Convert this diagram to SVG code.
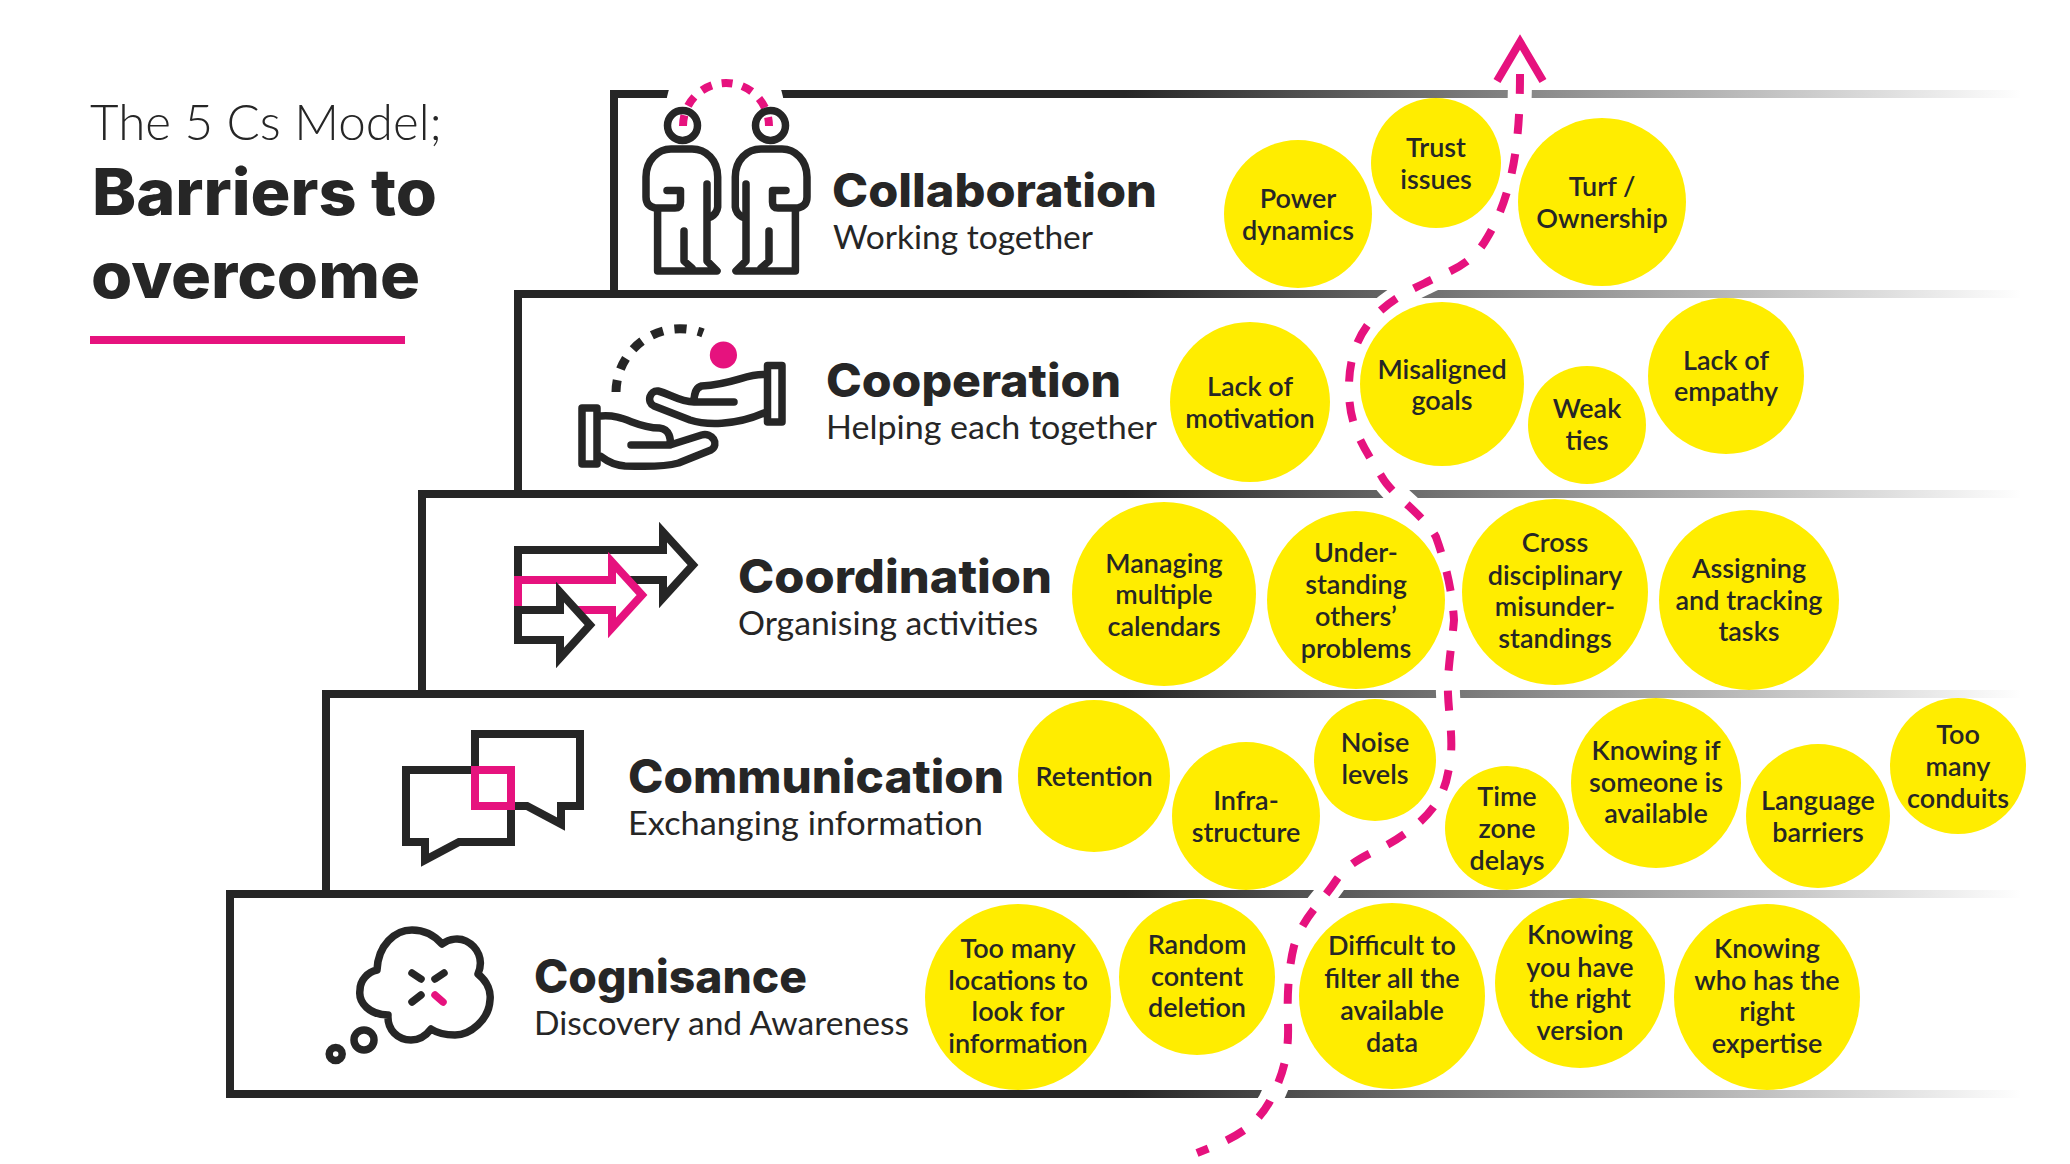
<svg xmlns="http://www.w3.org/2000/svg" width="2070" height="1164" viewBox="0 0 2070 1164">
<style>
text{font-family:"Lato","Noto Sans",sans-serif;fill:#262626}
.t{font-family:"Inter","Lato",sans-serif;font-size:46px;font-weight:800}
.s{font-size:33px;font-weight:400}
.b{font-size:27px;font-weight:600;text-anchor:middle}
.c{fill:#ffed00}
.i{fill:none;stroke:#262626;stroke-width:7.5;stroke-linejoin:round;stroke-linecap:round}
.m{fill:#fff;stroke:#262626;stroke-width:8;stroke-miterlimit:10}
.p{fill:none;stroke:#e6127e;stroke-width:8}
</style>
<defs>
<linearGradient id="fade" gradientUnits="userSpaceOnUse" x1="1125" y1="0" x2="2022" y2="0"><stop offset="0" stop-color="#262626"/><stop offset="1" stop-color="#262626" stop-opacity="0"/></linearGradient>
<path id="trail" d="M1520 74C1520 130 1516 190 1487 238C1470 268 1445 272 1425 283C1395 297 1350 320 1349 385C1348 425 1362 445 1382 477C1392 495 1424 515 1436 537C1446 565 1452 590 1454 620C1452 645 1447 670 1448 694C1449 720 1455 745 1448 773C1443 802 1425 820 1403 835C1380 852 1355 855 1337 879C1320 905 1304 915 1294 946C1288 970 1287 1000 1288 1024C1289 1055 1283 1075 1270 1101C1255 1128 1235 1138 1197 1153"/>
<g id="person"><path class="i" d="M667 190.6H680.5V202Q680.5 208 675 208H657.6M657.6 208H655Q646 206 646 197V177C646 160 658 149 671 149H692C706 149 717.7 160 717.7 177V207Q717 213 711 217M707 184V261L717 271H657.6V208M684 231V261L692 268"/></g>
</defs>

<g id="steps">
<rect x="610" y="90" width="1415" height="8" fill="url(#fade)"/><rect x="610" y="90" width="8" height="204" fill="#262626"/>
<rect x="514" y="290" width="1511" height="8" fill="url(#fade)"/><rect x="514" y="290" width="8" height="204" fill="#262626"/>
<rect x="418" y="490" width="1607" height="8" fill="url(#fade)"/><rect x="418" y="490" width="8" height="204" fill="#262626"/>
<rect x="322" y="690" width="1703" height="8" fill="url(#fade)"/><rect x="322" y="690" width="8" height="204" fill="#262626"/>
<rect x="226" y="890" width="1799" height="8" fill="url(#fade)"/><rect x="226" y="890" width="8" height="208" fill="#262626"/>
<rect x="226" y="1090" width="1799" height="8" fill="url(#fade)"/>
</g>

<g id="title">
<text x="90" y="140" font-size="49" font-weight="300" textLength="352" lengthAdjust="spacingAndGlyphs">The 5 Cs Model;</text>
<text x="92" y="215" font-size="64" font-weight="800" style="font-family:Inter,Lato,sans-serif" textLength="345" lengthAdjust="spacingAndGlyphs">Barriers to</text>
<text x="91" y="298" font-size="64" font-weight="800" style="font-family:Inter,Lato,sans-serif" textLength="329" lengthAdjust="spacingAndGlyphs">overcome</text>
<rect x="90" y="336" width="315" height="8" fill="#e6127e"/>
</g>

<g id="collaboration">
<circle cx="725" cy="108" r="59" fill="#fff"/>
<path class="p" d="M683 126A43 43 0 0 1 769 126" stroke-dasharray="11 10"/>
<circle class="i" cx="682.5" cy="125.4" r="15"/><circle class="i" cx="770.5" cy="125.4" r="15"/>
<use href="#person"/><use href="#person" transform="translate(1453 0) scale(-1 1)"/>
<text class="t" x="832" y="207" textLength="325" lengthAdjust="spacingAndGlyphs">Collaboration</text><text class="s" x="833" y="249" textLength="260" lengthAdjust="spacingAndGlyphs">Working together</text>
</g>

<g id="cooperation">
<rect class="i" x="767.5" y="365.5" width="14.5" height="56.5" stroke-linejoin="miter"/>
<rect class="i" x="582" y="408" width="15" height="56" stroke-linejoin="miter"/>
<path d="M616 392A64 64 0 0 1 703 333" fill="none" stroke="#262626" stroke-width="9" stroke-dasharray="12 11.5"/>
<circle cx="723.4" cy="355" r="13.6" fill="#e6127e"/>
<path class="i" d="M764 374.5C745 374 735 384 701.6 386Q694 388 694 402M734 402H694C680 402 670 394 658 391C650 390 646 402 654 406L690 420C705 425 735 426 764 413"/>
<path class="i" d="M601 416C625 414 635 428 659.5 428C670 429 671 440 670 445M631 445H670L701.6 435C712 432 720 444 711 450L678.6 463C660 468 640 466 625 466Q612 465 601 456.5"/>
<text class="t" x="826" y="397" textLength="295" lengthAdjust="spacingAndGlyphs">Cooperation</text><text class="s" x="826" y="439" textLength="331" lengthAdjust="spacingAndGlyphs">Helping each together</text>
</g>

<g id="coordination">
<path class="m" d="M518 550H663V532L693 565L663 598V580H518Z"/>
<path class="m" style="stroke:#e6127e" d="M518 580H612V562L642 595L612 628V610H518Z"/>
<path class="m" d="M518 610H560V592L590 625L560 658V640H518Z"/>
<text class="t" x="738" y="593" textLength="314" lengthAdjust="spacingAndGlyphs">Coordination</text><text class="s" x="738" y="635" textLength="300" lengthAdjust="spacingAndGlyphs">Organising activities</text>
</g>

<g id="communication">
<path fill="none" stroke="#262626" stroke-width="8" d="M475 770V734H580V806H561V824L527 806H508"/>
<path fill="none" stroke="#262626" stroke-width="8" d="M475 770H406V842H425V860L459 842H511V806"/>
<rect x="475" y="770" width="36" height="36" fill="none" stroke="#e6127e" stroke-width="8"/>
<text class="t" x="628" y="793" textLength="376" lengthAdjust="spacingAndGlyphs">Communication</text><text class="s" x="628" y="835" textLength="355" lengthAdjust="spacingAndGlyphs">Exchanging information</text>
</g>

<g id="cognisance">
<path class="i" d="M377 970C378 945 395 930 412 930C425 930 435 936 442 944C450 938 460 938 466 941C478 947 484 960 478 974C488 982 491 992 490 1000C489 1020 470 1035 455 1035C445 1035 437 1033 431 1029C425 1037 418 1040 411 1040C398 1040 387 1030 388 1015C370 1015 358 1003 360 990C360 980 368 972 377 970Z"/>
<circle class="i" cx="364" cy="1040" r="10"/><circle class="i" cx="335.7" cy="1054" r="6.5"/>
<path class="i" d="M412 973L421 979M444 973L435 979M412 1002L421 995"/>
<path class="i" style="stroke:#e6127e" d="M435 995L443 1002"/>
<text class="t" x="534" y="993" textLength="273" lengthAdjust="spacingAndGlyphs">Cognisance</text><text class="s" x="534" y="1035" textLength="375" lengthAdjust="spacingAndGlyphs">Discovery and Awareness</text>
</g>

<g id="connectors">
<use href="#trail" fill="none" stroke="#fff" stroke-width="24"/>
</g>

<g id="barriers">
<g id="b1"><circle class="c" cx="1298" cy="214" r="74"/><text class="b"><tspan x="1298" y="208">Power</tspan><tspan x="1298" y="240">dynamics</tspan></text></g>
<g id="b2"><circle class="c" cx="1436" cy="163" r="65"/><text class="b"><tspan x="1436" y="157">Trust</tspan><tspan x="1436" y="189">issues</tspan></text></g>
<g id="b3"><circle class="c" cx="1602" cy="202" r="84"/><text class="b"><tspan x="1602" y="196">Turf /</tspan><tspan x="1602" y="228">Ownership</tspan></text></g>
<g id="b4"><circle class="c" cx="1250" cy="402" r="80"/><text class="b"><tspan x="1250" y="396">Lack of</tspan><tspan x="1250" y="428">motivation</tspan></text></g>
<g id="b5"><circle class="c" cx="1442" cy="384" r="82"/><text class="b"><tspan x="1442" y="379">Misaligned</tspan><tspan x="1442" y="410">goals</tspan></text></g>
<g id="b6"><circle class="c" cx="1587" cy="425" r="59"/><text class="b"><tspan x="1587" y="418">Weak</tspan><tspan x="1587" y="450">ties</tspan></text></g>
<g id="b7"><circle class="c" cx="1726" cy="376" r="78"/><text class="b"><tspan x="1726" y="370">Lack of</tspan><tspan x="1726" y="401">empathy</tspan></text></g>
<g id="b8"><circle class="c" cx="1164" cy="594" r="92"/><text class="b"><tspan x="1164" y="573">Managing</tspan><tspan x="1164" y="604">multiple</tspan><tspan x="1164" y="636">calendars</tspan></text></g>
<g id="b9"><circle class="c" cx="1356" cy="600" r="89"/><text class="b"><tspan x="1356" y="562">Under-</tspan><tspan x="1356" y="594">standing</tspan><tspan x="1356" y="626">others’</tspan><tspan x="1356" y="658">problems</tspan></text></g>
<g id="b10"><circle class="c" cx="1555" cy="592" r="93"/><text class="b"><tspan x="1555" y="552">Cross</tspan><tspan x="1555" y="585">disciplinary</tspan><tspan x="1555" y="616">misunder-</tspan><tspan x="1555" y="648">standings</tspan></text></g>
<g id="b11"><circle class="c" cx="1749" cy="600" r="90"/><text class="b"><tspan x="1749" y="578">Assigning</tspan><tspan x="1749" y="610">and tracking</tspan><tspan x="1749" y="641">tasks</tspan></text></g>
<g id="b12"><circle class="c" cx="1094" cy="776" r="76"/><text class="b"><tspan x="1094" y="786">Retention</tspan></text></g>
<g id="b13"><circle class="c" cx="1246" cy="816" r="74"/><text class="b"><tspan x="1246" y="810">Infra-</tspan><tspan x="1246" y="842">structure</tspan></text></g>
<g id="b14"><circle class="c" cx="1375" cy="760" r="61"/><text class="b"><tspan x="1375" y="752">Noise</tspan><tspan x="1375" y="784">levels</tspan></text></g>
<g id="b15"><circle class="c" cx="1507" cy="828" r="62"/><text class="b"><tspan x="1507" y="806">Time</tspan><tspan x="1507" y="838">zone</tspan><tspan x="1507" y="870">delays</tspan></text></g>
<g id="b16"><circle class="c" cx="1656" cy="783" r="85"/><text class="b"><tspan x="1656" y="760">Knowing if</tspan><tspan x="1656" y="792">someone is</tspan><tspan x="1656" y="823">available</tspan></text></g>
<g id="b17"><circle class="c" cx="1818" cy="816" r="72"/><text class="b"><tspan x="1818" y="810">Language</tspan><tspan x="1818" y="842">barriers</tspan></text></g>
<g id="b18"><circle class="c" cx="1958" cy="766" r="68"/><text class="b"><tspan x="1958" y="744">Too</tspan><tspan x="1958" y="776">many</tspan><tspan x="1958" y="808">conduits</tspan></text></g>
<g id="b19"><circle class="c" cx="1018" cy="997" r="93"/><text class="b"><tspan x="1018" y="958">Too many</tspan><tspan x="1018" y="990">locations to</tspan><tspan x="1018" y="1021">look for</tspan><tspan x="1018" y="1053">information</tspan></text></g>
<g id="b20"><circle class="c" cx="1197" cy="977" r="78"/><text class="b"><tspan x="1197" y="954">Random</tspan><tspan x="1197" y="986">content</tspan><tspan x="1197" y="1017">deletion</tspan></text></g>
<g id="b21"><circle class="c" cx="1392" cy="996" r="93"/><text class="b"><tspan x="1392" y="955">Difficult to</tspan><tspan x="1392" y="988">filter all the</tspan><tspan x="1392" y="1020">available</tspan><tspan x="1392" y="1052">data</tspan></text></g>
<g id="b22"><circle class="c" cx="1580" cy="983" r="85"/><text class="b"><tspan x="1580" y="944">Knowing</tspan><tspan x="1580" y="977">you have</tspan><tspan x="1580" y="1008">the right</tspan><tspan x="1580" y="1040">version</tspan></text></g>
<g id="b23"><circle class="c" cx="1767" cy="997" r="93"/><text class="b"><tspan x="1767" y="958">Knowing</tspan><tspan x="1767" y="990">who has the</tspan><tspan x="1767" y="1021">right</tspan><tspan x="1767" y="1053">expertise</tspan></text></g>
</g>

<g id="trail-line">
<use href="#trail" fill="none" stroke="#e6127e" stroke-width="8" stroke-dasharray="20 20"/>
<path d="M1497 81L1520 42L1543 81" fill="none" stroke="#e6127e" stroke-width="8" stroke-miterlimit="10"/>
</g>
</svg>
